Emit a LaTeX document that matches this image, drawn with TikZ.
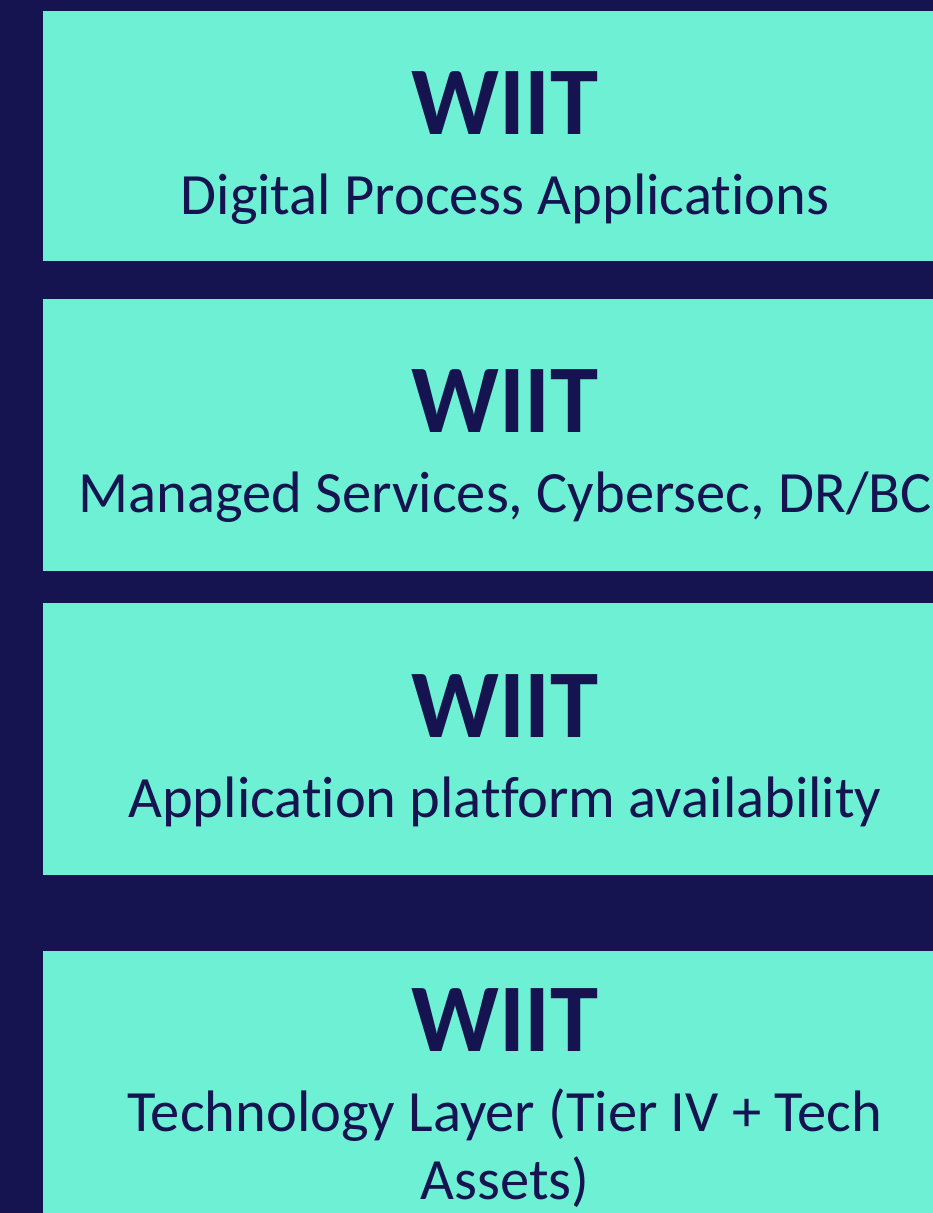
\documentclass[tikz,border=0pt]{standalone}
\usepackage{fontspec}
\setmainfont[Ligatures=NoCommon,RawFeature={-liga;-clig;-dlig}]{Carlito}
\definecolor{navy}{RGB}{21,20,80}
\definecolor{mint}{RGB}{110,240,212}
\begin{document}
\begin{tikzpicture}[x=1pt,y=1pt,
  panel/.style={fill=mint,draw=none},
  brand/.style={anchor=base,text=navy,font=\fontsize{97}{110}\selectfont\bfseries,inner sep=0pt},
  caption/.style={anchor=base,text=navy,font=\fontsize{58.5}{70}\selectfont,inner sep=0pt,align=center}]
\useasboundingbox (0,0) rectangle (933,1213);
\clip (0,0) rectangle (933,1213);
\fill[navy] (0,0) rectangle (933,1213);
% four stacked layers
\path[panel] (43,952) rectangle (960,1202) coordinate (p1);
\path[panel] (43,642) rectangle (960,914) coordinate (p2);
\path[panel] (43,338) rectangle (960,610) coordinate (p3);
\path[panel] (43,-10) rectangle (960,262) coordinate (p4);
% layer titles
\node[brand] (t1) at (505,1078) {WIIT};
\node[caption] (s1) at (505,998) {Digital Process Applications};
\node[brand] (t2) at (505,780) {WIIT};
\node[caption] (s2) at (505,700) {Managed Services, Cybersec, DR/BC};
\node[brand] (t3) at (505,475) {WIIT};
\node[caption] (s3) at (505,395) {Application platform availability};
\node[brand] (t4) at (505,161) {WIIT};
\node[caption] (s4) at (505,81) {Technology Layer (Tier IV + Tech};
\node[caption] (s5) at (505,13) {Assets)};
\end{tikzpicture}
\end{document}
